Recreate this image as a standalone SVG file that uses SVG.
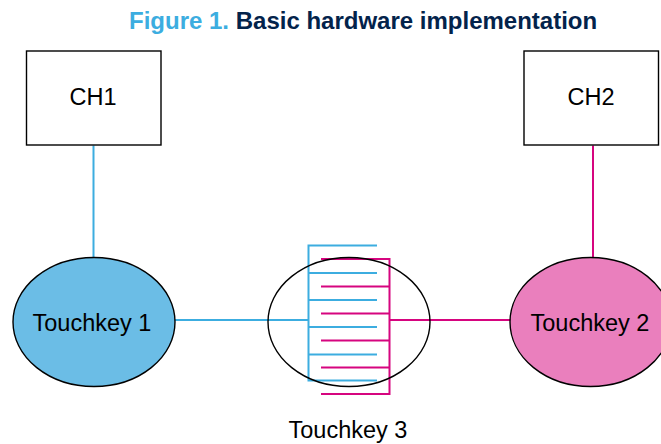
<svg xmlns="http://www.w3.org/2000/svg" width="661" height="444" viewBox="0 0 661 444">
<style>
text{font-family:"Liberation Sans",Arial,sans-serif;font-size:23.500px;fill:#000;text-anchor:middle}
.title{font-size:24px;font-weight:bold;text-anchor:start}
.box{fill:#fff;stroke:#000;stroke-width:1.4}
.ell{stroke:#000;stroke-width:1.4}
.b{fill:none;stroke:#3cade0;stroke-width:2}
.m{fill:none;stroke:#d6057f;stroke-width:2}
</style>
<rect width="661" height="444" fill="#fff"/>
<text class="title" x="129" y="29"><tspan fill="#3cade0">Figure 1.</tspan><tspan fill="#03234b"> Basic hardware implementation</tspan></text>
<g id="connectors">
<path class="b" d="M93.500 145.500V259M175 320H308"/>
<path class="b" d="M377 245.500H308.500V380.500H377M308 273H377M308 300H377M308 327H377M308 354.500H377"/>
<path class="m" d="M593 145.500V259M390 320H511"/>
<path class="m" d="M321 259H389.500V394H321M321 286.500H389M321 313.500H389M321 340.500H389M321 367.500H389"/>
</g>
<g id="ch1"><rect class="box" x="26.500" y="51" width="134.500" height="94"/><text x="93" y="105">CH1</text></g>
<g id="ch2"><rect class="box" x="524" y="51" width="134.500" height="94"/><text x="591" y="105">CH2</text></g>
<g id="touchkey1"><ellipse class="ell" cx="94" cy="322" rx="81" ry="64.500" fill="#6bbde6"/><text x="92" y="331">Touchkey 1</text></g>
<g id="touchkey2"><ellipse class="ell" cx="590.500" cy="322" rx="80.500" ry="64.500" fill="#ea7fbd"/><text x="590" y="331">Touchkey 2</text></g>
<g id="touchkey3"><ellipse class="ell" cx="349" cy="322" rx="81" ry="64.500" fill="none"/><text x="348" y="438">Touchkey 3</text></g>
</svg>
